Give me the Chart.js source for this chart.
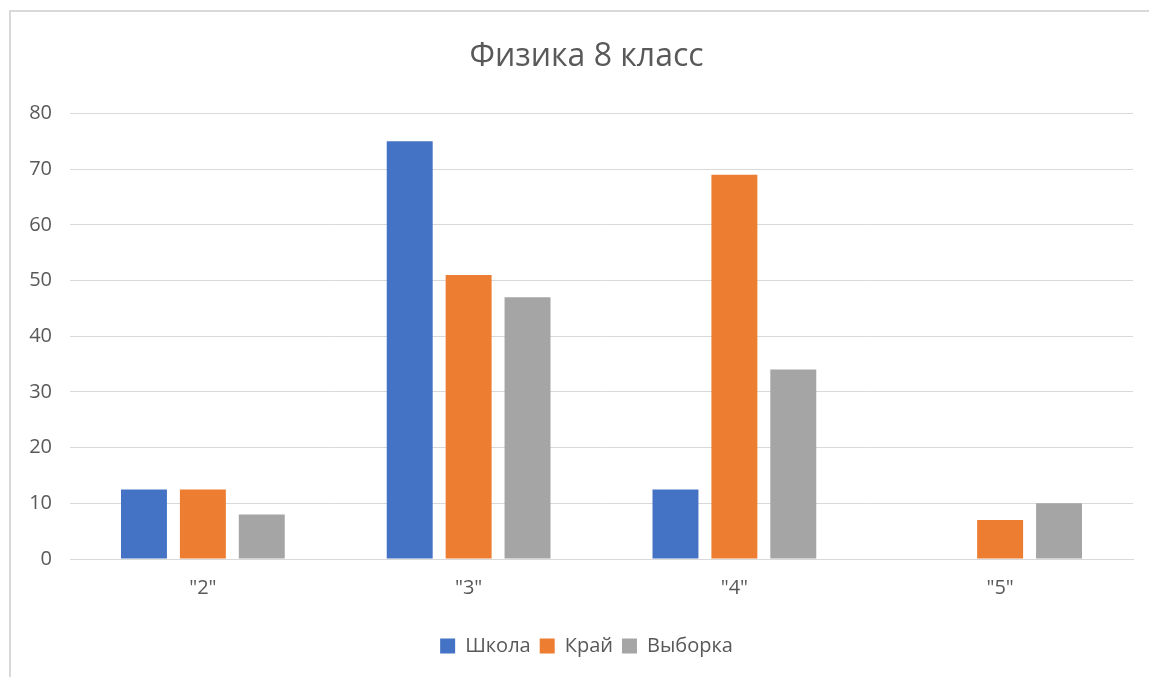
<!DOCTYPE html>
<html>
<head>
<meta charset="utf-8">
<script src="https://cdn.jsdelivr.net/npm/chart.js@4/dist/chart.umd.min.js"></script>
<style>
    html, body { margin: 0; padding: 0; background: #fff; }
    #wrap { position: relative; width: 1149px; height: 677px; }
    #frame { position: absolute; left: 9px; top: 10px; right: -5px; bottom: -5px;
             border-top: 2px solid #d9d9d9; border-left: 2px solid #d9d9d9; }
    canvas { position: absolute; left: 0; top: 0; }
</style>
</head>
<body>
<div id="wrap">
    <div id="frame"></div>
    <canvas id="chart" width="1149" height="677"></canvas>
</div>
<script>
// data
var categories = ['"2"', '"3"', '"4"', '"5"'];
var schoolValues = [12.5, 75, 12.5, 0];
var regionValues = [12.5, 51, 69, 7];
var sampleValues = [8, 47, 34, 10];
var seriesNames = ['Школа', 'Край', 'Выборка'];
var seriesColors = ['#4472C4', '#ED7D31', '#A5A5A5'];

var textColor = '#595959';
var fontFamily = '"Open Sans", "Noto Sans", sans-serif';

var allValues = [schoolValues, regionValues, sampleValues];
var datasets = allValues.map(function (vals, i) {
    return {
        label: seriesNames[i],
        data: vals,
        backgroundColor: seriesColors[i],
        borderWidth: 0,
        barPercentage: 0.78,
        categoryPercentage: 0.665
    };
});

// the original chart is cut off on the right, so title and legend sit a bit right of the plot centre
var shiftBlocks = {
    id: 'shiftBlocks',
    afterLayout: function (chart) {
        [chart.titleBlock, chart.legend].forEach(function (b) {
            if (b) { b.left += 15; b.right += 15; }
        });
    }
};

const ctx = document.getElementById('chart');
var myChart = new Chart(ctx, {
    type: 'bar',
    data: { labels: categories, datasets: datasets },
    plugins: [shiftBlocks],
    options: {
        responsive: false,
        animation: false,
        layout: { padding: { left: 10, right: 16, top: 20, bottom: 11 } },
        plugins: {
            title: {
                display: true,
                text: 'Физика 8 класс',
                color: textColor,
                font: { family: fontFamily, size: 32, weight: 'normal' },
                padding: { top: 18, bottom: 37 }
            },
            legend: {
                position: 'bottom',
                labels: {
                    color: textColor,
                    font: { family: fontFamily, size: 20 },
                    boxWidth: 15,
                    boxHeight: 15,
                    padding: 9
                }
            },
            tooltip: { enabled: false }
        },
        scales: {
            x: {
                grid: { display: false, drawTicks: false },
                border: { display: true, color: '#d9d9d9', width: 1 },
                ticks: { color: textColor, font: { family: fontFamily, size: 20 }, padding: 17 },
                afterFit: function (scale) { scale.height = 68; }
            },
            y: {
                min: 0,
                max: 80,
                grid: { color: '#d9d9d9', drawTicks: false },
                border: { display: false },
                ticks: { stepSize: 10, color: textColor, font: { family: fontFamily, size: 20 }, padding: 18 },
                afterFit: function (scale) { scale.width = 60; }
            }
        }
    }
});
</script>
</body>
</html>
